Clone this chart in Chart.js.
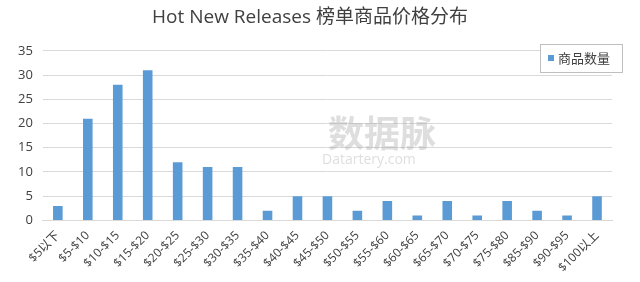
<!DOCTYPE html>
<html>
<head>
<meta charset="utf-8">
<script src="https://cdn.jsdelivr.net/npm/chart.js@4"></script>
<style>
  body { margin: 0; background: #fff; }
  #wrap { width: 640px; height: 282px; }
</style>
</head>
<body>
<div id="wrap"><canvas id="myChart"></canvas></div>
<script>
const categories = ["$5以下", "$5-$10", "$10-$15", "$15-$20", "$20-$25", "$25-$30", "$30-$35", "$35-$40", "$40-$45", "$45-$50", "$50-$55", "$55-$60", "$60-$65", "$65-$70", "$70-$75", "$75-$80", "$85-$90", "$90-$95", "$100以上"];
const counts = [3, 21, 28, 31, 12, 11, 11, 2, 5, 5, 2, 4, 1, 4, 1, 4, 2, 1, 5];
const yTicks = [0, 5, 10, 15, 20, 25, 30, 35];
const seriesName = "商品数量";

const ctx = document.getElementById("myChart");
const font = "'Open Sans', 'Noto Sans CJK SC', sans-serif";

// watermark + boxed legend in the top right of the plot
const extras = {
  id: "extras",
  beforeDatasetsDraw(chart) {
    const c = chart.ctx;
    c.save();
    c.fillStyle = "rgba(160,160,160,0.35)";
    c.font = "bold 36px 'Noto Sans CJK SC'";
    c.textBaseline = "middle";
    c.fillText("数据脉", 328, 133);
    c.font = "14px " + font;
    c.fillText("Datartery.com", 322, 160);
    c.restore();
  },
  afterDraw(chart) {
    const c = chart.ctx;
    const x = 540, y = 44, w = 82, h = 28;
    c.save();
    c.fillStyle = "#fff";
    c.fillRect(x, y, w, h);
    c.strokeStyle = "#bfbfbf";
    c.lineWidth = 1;
    c.strokeRect(x + 0.5, y + 0.5, w, h);
    c.fillStyle = "#5B9BD5";
    c.fillRect(x + 8, y + 11, 6, 6);
    c.fillStyle = "#404040";
    c.font = "13px 'Noto Sans CJK SC'";
    c.textBaseline = "middle";
    c.fillText(chart.data.datasets[0].label, x + 18, y + 14.5);
    c.restore();
  }
};

new Chart(ctx, {
  type: "bar",
  data: {
    labels: categories,
    datasets: [
      {
        label: seriesName,
        data: counts,
        backgroundColor: "#5B9BD5",
        borderWidth: 0,
        barPercentage: 0.64,
        categoryPercentage: 0.5,
      },
    ],
  },
  options: {
    responsive: true,
    maintainAspectRatio: false,
    animation: false,
    layout: { padding: { top: 6, right: 28, left: 8, bottom: 7 } },
    plugins: {
      legend: { display: false },
      tooltip: { enabled: false },
      title: {
        display: true,
        text: "Hot New Releases 榜单商品价格分布",
        color: "#404040",
        font: { family: "'Open Sans', 'Noto Sans CJK SC', sans-serif", size: 19, weight: "normal" },
        padding: { top: 0, bottom: 22 },
      },
    },
    scales: {
      x: {
        grid: { display: false },
        border: { color: "#d9d9d9" },
        ticks: {
          color: "#404040",
          font: { family: font, size: 12 },
          maxRotation: 45,
          minRotation: 45,
          autoSkip: false,
          padding: 0,
        },
      },
      y: {
        min: 0,
        max: 35,
        afterBuildTicks(axis) {
          axis.ticks = yTicks.map((v) => ({ value: v }));
        },
        border: { display: false },
        grid: { color: "#d9d9d9", drawTicks: false },
        ticks: {
          color: "#404040",
          font: { family: font, size: 13 },
          padding: 10,
        },
      },
    },
  },
  plugins: [extras],
});
</script>
</body>
</html>
